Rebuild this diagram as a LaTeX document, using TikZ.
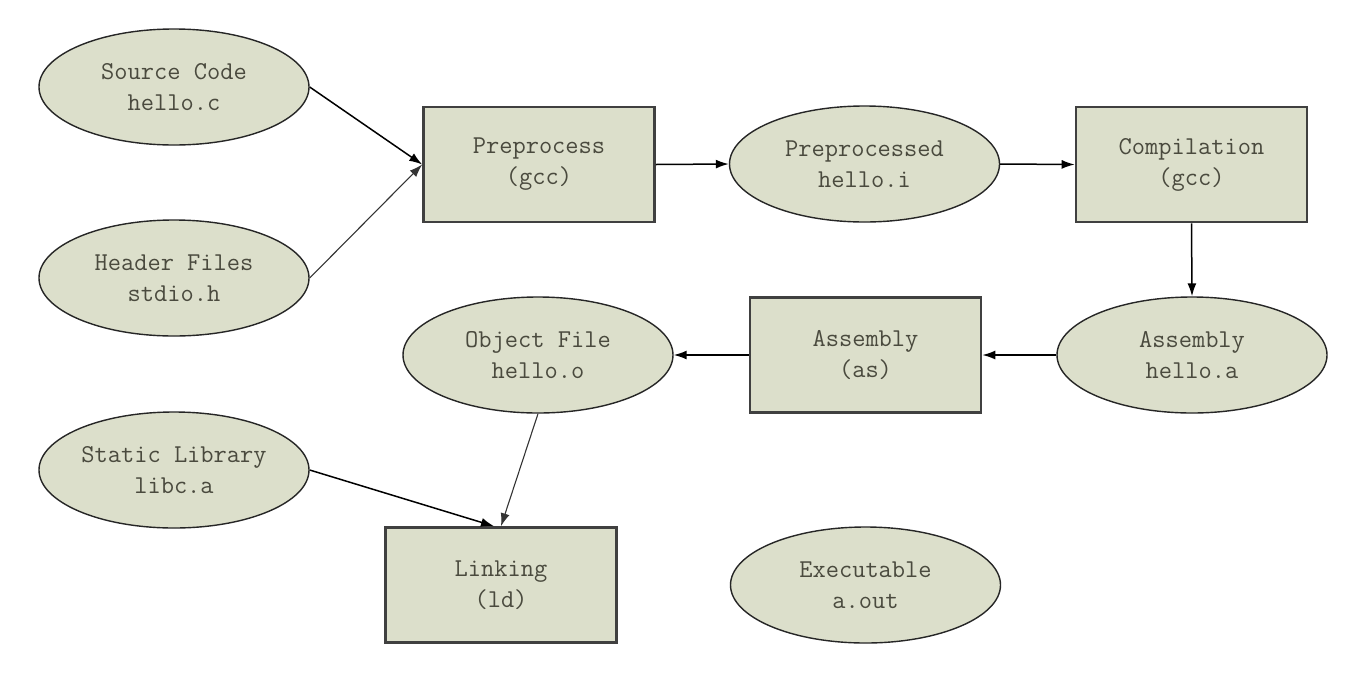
\documentclass[tikz,border=0pt]{standalone}
\usepackage{fontspec}
\usetikzlibrary{shapes.geometric,arrows.meta}
\definecolor{nodefill}{HTML}{DCDFCB}
\definecolor{txt}{HTML}{4A4A3E}
\definecolor{boxline}{HTML}{404040}
\tikzset{
  fileell/.style={ellipse, draw=black!85, line width=1.4pt, fill=nodefill,
    minimum width=270pt, minimum height=116pt, inner sep=0pt,
    align=center, text=txt, font=\ttfamily\fontsize{25.7}{31}\selectfont},
  stepbox/.style={rectangle, draw=boxline, line width=2.6pt, fill=nodefill,
    minimum width=231pt, minimum height=115pt, inner sep=0pt,
    align=center, text=txt, font=\ttfamily\fontsize{25.7}{31}\selectfont},
  conn/.style={draw=black, line width=1.5pt, -{Latex[length=13pt,width=9pt]}},
  thinconn/.style={draw=black!80, line width=1.1pt, -{Latex[length=13pt,width=9pt]}}
}
\begin{document}
\begin{tikzpicture}[x=1pt,y=-1pt]
\fill[white] (0,0) rectangle (1370,678);
\useasboundingbox (0,0) rectangle (1370,678);
\node[fileell] (src) at (174,87) {Source Code\\hello.c};
\node[fileell] (hdr) at (174,278) {Header Files\\stdio.h};
\node[stepbox] (pre) at (539,164.5) {Preprocess\\(gcc)};
\node[fileell] (prei) at (864.5,164) {Preprocessed\\hello.i};
\node[stepbox] (comp) at (1191.5,164.5) {Compilation\\(gcc)};
\node[fileell] (asma) at (1192,355) {Assembly\\hello.a};
\node[stepbox] (asm) at (865.5,355) {Assembly\\(as)};
\node[fileell] (obj) at (538,355) {Object File\\hello.o};
\node[fileell] (lib) at (174,470) {Static Library\\libc.a};
\node[stepbox] (link) at (501,585) {Linking\\(ld)};
\node[fileell] (exe) at (865.5,585) {Executable\\a.out};
\coordinate (linkin) at ([xshift=-7pt]link.north);
\draw[conn] (src.east) -- (pre.west);
\draw[thinconn] (hdr.east) -- (pre.west);
\draw[conn] (pre.east) -- (prei.west);
\draw[conn] (prei.east) -- (comp.west);
\draw[conn] (comp.south) -- (asma.north);
\draw[conn] (asma.west) -- (asm.east);
\draw[conn] (asm.west) -- (obj.east);
\draw[thinconn] (obj.south) -- (link.north);
\draw[conn] (lib.east) -- (linkin);
\end{tikzpicture}
\end{document}
